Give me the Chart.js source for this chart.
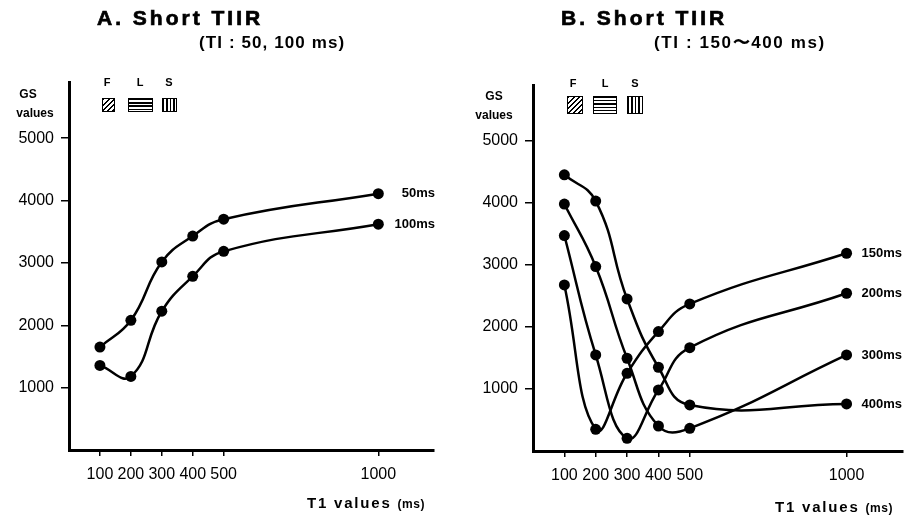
<!DOCTYPE html>
<html><head><meta charset="utf-8">
<script src="https://cdn.jsdelivr.net/npm/chart.js@4/dist/chart.umd.min.js"></script>
<style>
body{margin:0;background:#fff;width:909px;height:516px;position:relative;overflow:hidden;font-family:'Liberation Sans',Arial,sans-serif;color:#000}
canvas{position:absolute;top:0}
.t{position:absolute;white-space:nowrap;font-weight:bold;line-height:1;transform:translateY(-50%)}
.c{transform:translate(-50%,-50%)}
.title{font-size:21px;letter-spacing:3px;-webkit-text-stroke:0.7px #000}
.sub{font-size:17px;letter-spacing:1.6px}
.ax{font-size:12px}
.xl{font-size:15px;letter-spacing:1.8px}
.xl small{font-size:12px;letter-spacing:0.5px}
.lt{font-size:11px}
.box{position:absolute;box-sizing:border-box;border:1.5px solid #000}
.f{background:repeating-linear-gradient(135deg,#000 0 1.4px,#fff 1.4px 3.6px)}
.l{background:repeating-linear-gradient(180deg,#000 0 1.3px,#fff 1.3px 3.2px)}
.s{background:repeating-linear-gradient(90deg,#000 0 1.3px,#fff 1.3px 3.4px)}
</style>
</head><body>
<canvas id="cA" width="455" height="516" style="left:0"></canvas>
<canvas id="cB" width="454" height="516" style="left:455px"></canvas>

<div class="t title" style="left:97px;top:17px">A. Short TIIR</div>
<div class="t sub" style="left:199px;top:42px;letter-spacing:1.1px">(TI : 50, 100 ms)</div>
<div class="t c lt" style="left:107px;top:82px">F</div>
<div class="t c lt" style="left:140px;top:82px">L</div>
<div class="t c lt" style="left:169px;top:82px">S</div>
<div class="box f" style="left:102px;top:98px;width:13px;height:14px"></div>
<div class="box l" style="left:128px;top:98px;width:25px;height:14px"></div>
<div class="box s" style="left:162px;top:98px;width:15px;height:14px"></div>
<div class="t c ax" style="left:28px;top:94px">GS</div>
<div class="t c ax" style="left:35px;top:113px">values</div>
<div class="t xl" style="left:307px;top:502px">T1 values <small>(ms)</small></div>

<div class="t title" style="left:561px;top:17px">B. Short TIIR</div>
<div class="t sub" style="left:654px;top:42px">(TI : 150〜400 ms)</div>
<div class="t c lt" style="left:573px;top:83px">F</div>
<div class="t c lt" style="left:605px;top:83px">L</div>
<div class="t c lt" style="left:635px;top:83px">S</div>
<div class="box f" style="left:567px;top:96px;width:16px;height:18px"></div>
<div class="box l" style="left:593px;top:96px;width:24px;height:18px"></div>
<div class="box s" style="left:627px;top:96px;width:16px;height:18px"></div>
<div class="t c ax" style="left:494px;top:96px">GS</div>
<div class="t c ax" style="left:494px;top:115px">values</div>
<div class="t xl" style="left:775px;top:506px">T1 values <small>(ms)</small></div>

<script>
// ---- data ----
const t1Values = [100, 200, 300, 400, 500, 1000];
const xTickValues = [100, 200, 300, 400, 500, 1000];
const yTickValues = [1000, 2000, 3000, 4000, 5000];

const seriesLabelsA = ['50ms', '100ms'];
const gsA_50  = [1650, 2080, 3015, 3430, 3700, 4110];
const gsA_100 = [1356, 1180, 2225, 2785, 3185, 3620];

const seriesLabelsB = ['150ms', '200ms', '300ms', '400ms'];
const gsB_150 = [2677, 350, 1253, 1925, 2371, 3188];
const gsB_200 = [3473, 1548, 205, 984, 1666, 2543];
const gsB_300 = [3981, 2973, 1495, 403, 366, 1548];
const gsB_400 = [4452, 4029, 2452, 1350, 742, 758];

const tickFont = {family: "'Liberation Sans', Arial, sans-serif", size: 16};

const endLabels = {
  id:'endLabels',
  afterDatasetsDraw(chart, args, opts){
    const ctx = chart.ctx;
    ctx.save();
    ctx.font = 'bold 13px "Liberation Sans", Arial, sans-serif';
    ctx.fillStyle = '#000';
    ctx.textBaseline = 'middle';
    ctx.textAlign = opts.align;
    chart.data.datasets.forEach((ds, i) => {
      const pts = chart.getDatasetMeta(i).data;
      const p = pts[pts.length - 1];
      const x = opts.align === 'right' ? opts.x : p.x + opts.dx;
      ctx.fillText(ds.label, x, p.y);
    });
    ctx.restore();
  }
};

function makeChart(id, labels, series, L) {
  return new Chart(document.getElementById(id), {
    type: 'scatter',
    data: {
      datasets: series.map((vals, i) => ({
        label: labels[i],
        data: t1Values.map((x, j) => ({x: x, y: vals[j]})),
        showLine: true
      }))
    },
    options: {
      responsive: false,
      animation: false,
      layout: {padding: {top: L.top, right: L.right, left: 0, bottom: 0}},
      elements: {
        point: {radius: 5.5, backgroundColor: '#000', borderWidth: 0, hoverRadius: 5.5},
        line: {borderColor: '#000', borderWidth: 2.5, tension: 0.45, fill: false, capBezierPoints: false}
      },
      plugins: {
        legend: {display: false},
        tooltip: {enabled: false},
        endLabels: L.labels
      },
      scales: {
        x: {
          type: 'linear', min: 0, max: 1180,
          afterBuildTicks: s => { s.ticks = xTickValues.map(v => ({value: v})); },
          afterFit: s => { s.height = 516 - L.bottom; },
          ticks: {color: '#000', font: tickFont, padding: 9, maxRotation: 0, autoSkip: false, callback: v => String(v)},
          grid: {drawOnChartArea: false, drawTicks: true, tickLength: 6, color: '#000', lineWidth: 1.5},
          border: {color: '#000', width: 3}
        },
        y: {
          type: 'linear', min: 0, max: 5900,
          afterBuildTicks: s => { s.ticks = yTickValues.map(v => ({value: v})); },
          afterFit: s => { s.width = L.left; },
          ticks: {color: '#000', font: tickFont, padding: 7, callback: v => String(v)},
          grid: {drawOnChartArea: false, drawTicks: true, tickLength: 8, color: '#000', lineWidth: 1.5},
          border: {color: '#000', width: 3}
        }
      }
    },
    plugins: [endLabels]
  });
}

makeChart('cA', seriesLabelsA, [gsA_50, gsA_100],
  {left: 69, right: 21, top: 82, bottom: 450, labels: {align: 'right', x: 435}});
makeChart('cB', seriesLabelsB, [gsB_150, gsB_200, gsB_300, gsB_400],
  {left: 78, right: 6, top: 85, bottom: 451, labels: {align: 'left', dx: 15}});
</script>
</body></html>
